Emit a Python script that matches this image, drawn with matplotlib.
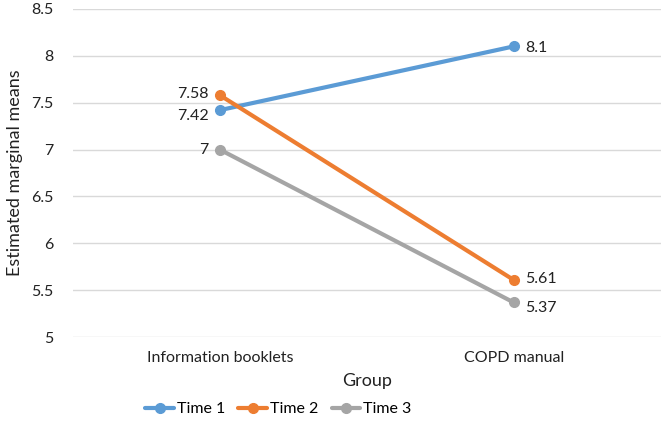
import matplotlib.pyplot as plt

# data
groups = ['Information booklets', 'COPD manual']
time1 = [7.42, 8.1]
time2 = [7.58, 5.61]
time3 = [7.0, 5.37]
series_names = ['Time 1', 'Time 2', 'Time 3']
colors = ['#5B9BD5', '#ED7D31', '#A5A5A5']

plt.rcParams['font.family'] = ['Lato', 'DejaVu Sans']

fig = plt.figure(figsize=(6.62, 4.22), dpi=100)
ax = fig.add_axes([0.110, 0.201, 0.888, 0.778])

x = list(range(len(groups)))
for vals, name, c in zip([time1, time2, time3], series_names, colors):
    ax.plot(x, vals, color=c, lw=3, marker='o', ms=7, label=name,
            solid_capstyle='round', zorder=3)

# data labels
def lab(xi, y, s, side, dy=0):
    if side == 'left':
        ax.annotate(s, (xi, y), xytext=(-8, dy), textcoords='offset points',
                    ha='right', va='center', fontsize=11.5, color='#222222')
    else:
        ax.annotate(s, (xi, y), xytext=(8, dy), textcoords='offset points',
                    ha='left', va='center', fontsize=11.5, color='#222222')

lab(0, time1[0], '7.42', 'left', -4)
lab(0, time2[0], '7.58', 'left', 1)
lab(0, time3[0], '7', 'left')
lab(1, time1[1], '8.1', 'right', -1)
lab(1, time2[1], '5.61', 'right', 1)
lab(1, time3[1], '5.37', 'right', -4)

ax.set_xlim(-0.5, 1.5)
ax.set_ylim(5, 8.5)
ax.set_yticks([5, 5.5, 6, 6.5, 7, 7.5, 8, 8.5])
ax.set_yticklabels(['5', '5.5', '6', '6.5', '7', '7.5', '8', '8.5'])
ax.set_xticks(x)
ax.set_xticklabels(groups)
ax.grid(axis='y', color='#D9D9D9', lw=1)
ax.set_axisbelow(True)
for s in ax.spines.values():
    s.set_visible(False)
ax.tick_params(axis='both', length=0, labelsize=11.5, colors='#222222')
ax.tick_params(axis='x', pad=10)
ax.tick_params(axis='y', pad=14)

ax.set_xlabel('Group', fontsize=13, color='#222222', labelpad=6)
ax.set_ylabel('Estimated marginal means', fontsize=13, color='#222222', labelpad=6)

ax.legend(loc='lower center', bbox_to_anchor=(0.35, -0.285), ncol=3, frameon=False,
          fontsize=11.5, handlelength=1.8, columnspacing=0.8, handletextpad=0.2)

fig.savefig('out.png', dpi=100)
